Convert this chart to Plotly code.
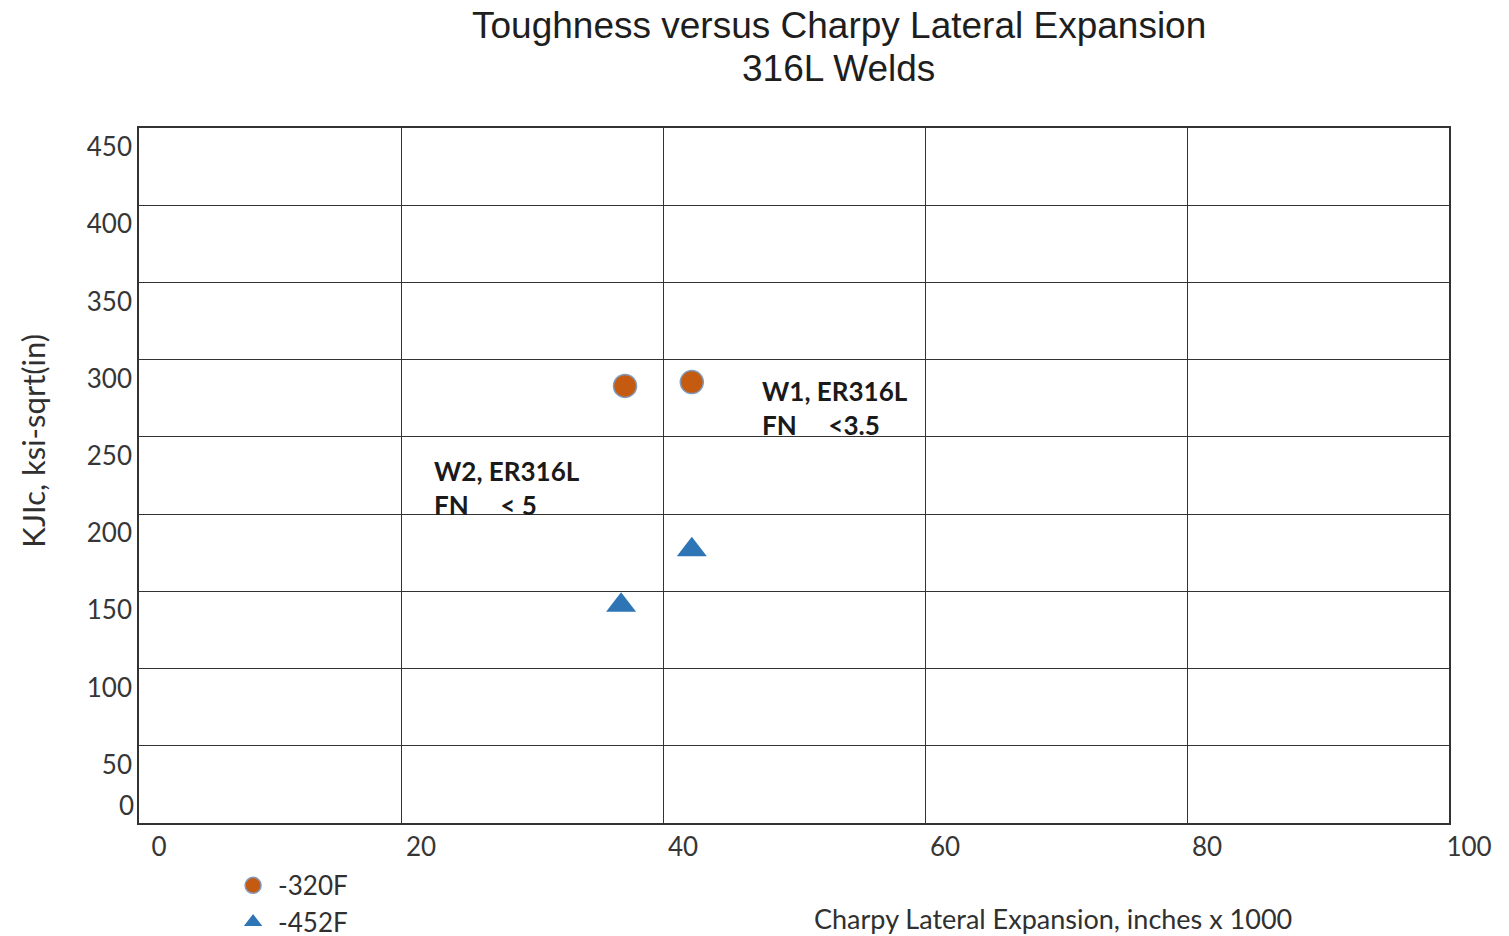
import plotly.graph_objects as go

# values
temps = ['-320F', '-452F']
lat_exp_320 = [37.1, 42.2]
kjic_320 = [283, 285.5]
lat_exp_452 = [36.8, 42.2]
kjic_452 = [141, 177]

x_ticks = [0, 20, 40, 60, 80, 100]
y_ticks = [0, 50, 100, 150, 200, 250, 300, 350, 400, 450]

title_lines = ['Toughness versus Charpy Lateral Expansion', '316L Welds']

notes = [
    dict(x=47.4, y=269, text='W1, ER316L<br>FN\u00a0\u00a0\u00a0\u00a0\u00a0<3.5'),
    dict(x=22.4, y=217, text='W2, ER316L<br>FN\u00a0\u00a0\u00a0\u00a0\u00a0<\u00a05'),
]

FONT = 'Lato, "Open Sans", sans-serif'
GRID = '#333333'
TICK_COLOR = '#363636'

fig = go.Figure()

fig.add_trace(go.Scatter(
    x=lat_exp_320, y=kjic_320, name=temps[0], mode='markers',
    marker=dict(symbol='circle', size=23, color='#C55A11',
                line=dict(width=1.5, color='#7F9CC0')),
))
fig.add_trace(go.Scatter(
    x=lat_exp_452, y=kjic_452, name=temps[1], mode='markers',
    marker=dict(symbol='triangle-up', size=26, color='#2E75B6',
                line=dict(width=0)),
))

annotations = [dict(
    x=n['x'], y=n['y'], text=n['text'], xref='x', yref='y',
    xanchor='left', yanchor='middle', align='left', showarrow=False,
    font=dict(family=FONT, size=26, color='#1a1a1a', weight='bold'),
) for n in notes]

# two-line title, placed as annotations so the line gap can match
for text, ypos in zip(title_lines, [1.148, 1.086]):
    annotations.append(dict(
        x=0.534, y=ypos, xref='paper', yref='paper', text=text,
        xanchor='center', yanchor='middle', showarrow=False,
        font=dict(family='"Liberation Sans", Arial, sans-serif', size=37, color='#1e1e1e'),
    ))

# the reference draws "0" on the y axis above its gridline
annotations.append(dict(
    x=0, y=0, xref='paper', yref='y', text='0', xanchor='right', yanchor='middle',
    xshift=-3, yshift=18, showarrow=False, font=dict(family=FONT, size=26, color=TICK_COLOR),
))
annotations.append(dict(
    x=0.698, y=-0.1367, xref='paper', yref='paper', text='Charpy Lateral Expansion, inches x 1000',
    xanchor='center', yanchor='middle', showarrow=False,
    font=dict(family=FONT, size=27, color='#303030'),
))
annotations.append(dict(
    x=-0.081, y=0.55, xref='paper', yref='paper', text='KJIc, ksi-sqrt(in)', textangle=-90,
    xanchor='center', yanchor='middle', showarrow=False,
    font=dict(family=FONT, size=31, color='#303030'),
))

# page body adds an 8px offset, so the figure is 8px smaller on each side
fig.update_layout(
    width=1501, height=928,
    paper_bgcolor='white', plot_bgcolor='white',
    margin=dict(l=131, r=60, t=120, b=113, autoexpand=False),
    showlegend=True,
    legend=dict(
        x=0.068, y=-0.056, xanchor='left', yanchor='top', orientation='v',
        bgcolor='rgba(0,0,0,0)', font=dict(family=FONT, size=26, color='#303030'),
        itemsizing='trace', itemwidth=40, tracegroupgap=0,
    ),
    xaxis=dict(
        range=[0, 100], tickvals=x_ticks, ticktext=[str(v) for v in x_ticks],
        showgrid=True, gridcolor=GRID, gridwidth=1.3,
        showline=True, linecolor=GRID, linewidth=1.6, mirror=True,
        ticks='', ticklabelshift=20, ticklabelstandoff=0,
        tickfont=dict(family=FONT, size=26, color=TICK_COLOR),
        zeroline=False,
    ),
    yaxis=dict(
        range=[0, 450], tickvals=y_ticks, ticktext=[''] + [str(v) for v in y_ticks[1:]],
        showgrid=True, gridcolor=GRID, gridwidth=1.3,
        showline=True, linecolor=GRID, linewidth=1.6, mirror=True,
        ticks='', ticklabelshift=19, ticklabelstandoff=0,
        tickfont=dict(family=FONT, size=26, color=TICK_COLOR),
        zeroline=False,
    ),
    annotations=annotations,
)

fig.write_html('out.html')
